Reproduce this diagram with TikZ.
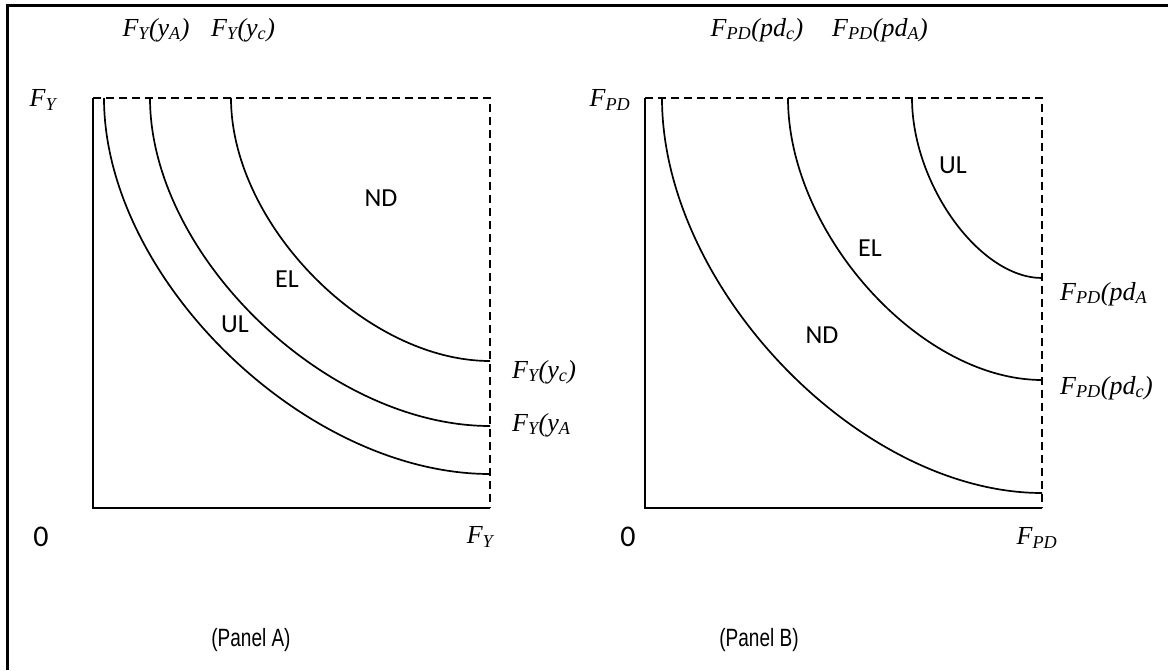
\documentclass[tikz,border=0pt]{standalone}
\usepackage{fontspec}
\setmainfont{Liberation Serif}
\newfontfamily\carl{Carlito}
\newfontfamily\arialf{Liberation Sans}
\tikzset{
  frame/.style={line width=3pt},
  axis/.style={line width=1.8pt},
  dline/.style={line width=1.8pt, dash pattern=on 8pt off 5pt},
  curve/.style={line width=1.7pt},
  lab/.style={font=\fontsize{26}{30}\selectfont\itshape, inner sep=0pt},
  reg/.style={font=\carl\fontsize{26}{30}\selectfont, inner sep=0pt},
  zero/.style={font=\carl\fontsize{30}{34}\selectfont, inner sep=0pt},
  panel/.style={font=\arialf\fontsize{25}{29}\selectfont, inner sep=0pt, xscale=0.76},
}
% quarter curve about corner (#1,#2), extents #3 (x) and #4 (y): from (cx-rx,cy) to (cx,cy+ry)
\newcommand{\qell}[4]{%
  \draw[curve] (#1-#3,#2) .. controls (#1-#3,#2+0.48*#4) and (#1-0.48*#3,#2+#4) .. (#1,#2+#4);}
\begin{document}
\begin{tikzpicture}[x=1pt,y=-1pt]
\useasboundingbox (0,0) rectangle (1168,670);
% frame
\draw[frame] (7,670) -- (7,5) -- (1168,5);
% ---------- Panel A
\coordinate (Ao) at (93,508);
\coordinate (At) at (93,98);
\coordinate (Ar) at (490,508);
\coordinate (Ac) at (490,98);
\draw[axis] (At) -- (Ao) -- (Ar);
\draw[dline] (At) -- (Ac) -- (Ar);
\qell{490}{98}{386}{376}
\qell{490}{98}{340}{328}
\qell{490}{98}{259}{263}
\node[lab] (a1) at (156,30) {F\textsubscript{Y}(y\textsubscript{A})};
\node[lab] (a2) at (243,30) {F\textsubscript{Y}(y\textsubscript{c})};
\node[lab] (a3) at (43,100) {F\textsubscript{Y}};
\node[zero] (a4) at (41,537) {0};
\node[lab] (a5) at (480,537) {F\textsubscript{Y}};
\node[reg] (a6) at (381,198) {ND};
\node[reg] (a7) at (287,279) {EL};
\node[reg] (a8) at (235,324) {UL};
\node[lab,anchor=west] (a9) at (512,372) {F\textsubscript{Y}(y\textsubscript{c})};
\node[lab,anchor=west] (a10) at (512,425) {F\textsubscript{Y}(y\textsubscript{A}};
\node[panel] (pa) at (251,640) {(Panel A)};
% ---------- Panel B
\coordinate (Bo) at (645,508);
\coordinate (Bt) at (645,98);
\coordinate (Br) at (1042,508);
\coordinate (Bc) at (1042,98);
\draw[axis] (Bt) -- (Bo) -- (Br);
\draw[dline] (Bt) -- (Bc) -- (Br);
\qell{1042}{98}{380}{395}
\qell{1042}{98}{254}{282}
\qell{1042}{98}{130}{180}
\node[lab] (b1) at (757,30) {F\textsubscript{PD}(pd\textsubscript{c})};
\node[lab] (b2) at (880,30) {F\textsubscript{PD}(pd\textsubscript{A})};
\node[lab] (b3) at (610,100) {F\textsubscript{PD}};
\node[zero] (b4) at (628,537) {0};
\node[lab] (b5) at (1037,538) {F\textsubscript{PD}};
\node[reg] (b6) at (953,165) {UL};
\node[reg] (b7) at (870,248) {EL};
\node[reg] (b8) at (822,335) {ND};
\node[lab,anchor=west] (b9) at (1060,294) {F\textsubscript{PD}(pd\textsubscript{A}};
\node[lab,anchor=west] (b10) at (1060,388) {F\textsubscript{PD}(pd\textsubscript{c})};
\node[panel] (pb) at (759,640) {(Panel B)};
\end{tikzpicture}
\end{document}
